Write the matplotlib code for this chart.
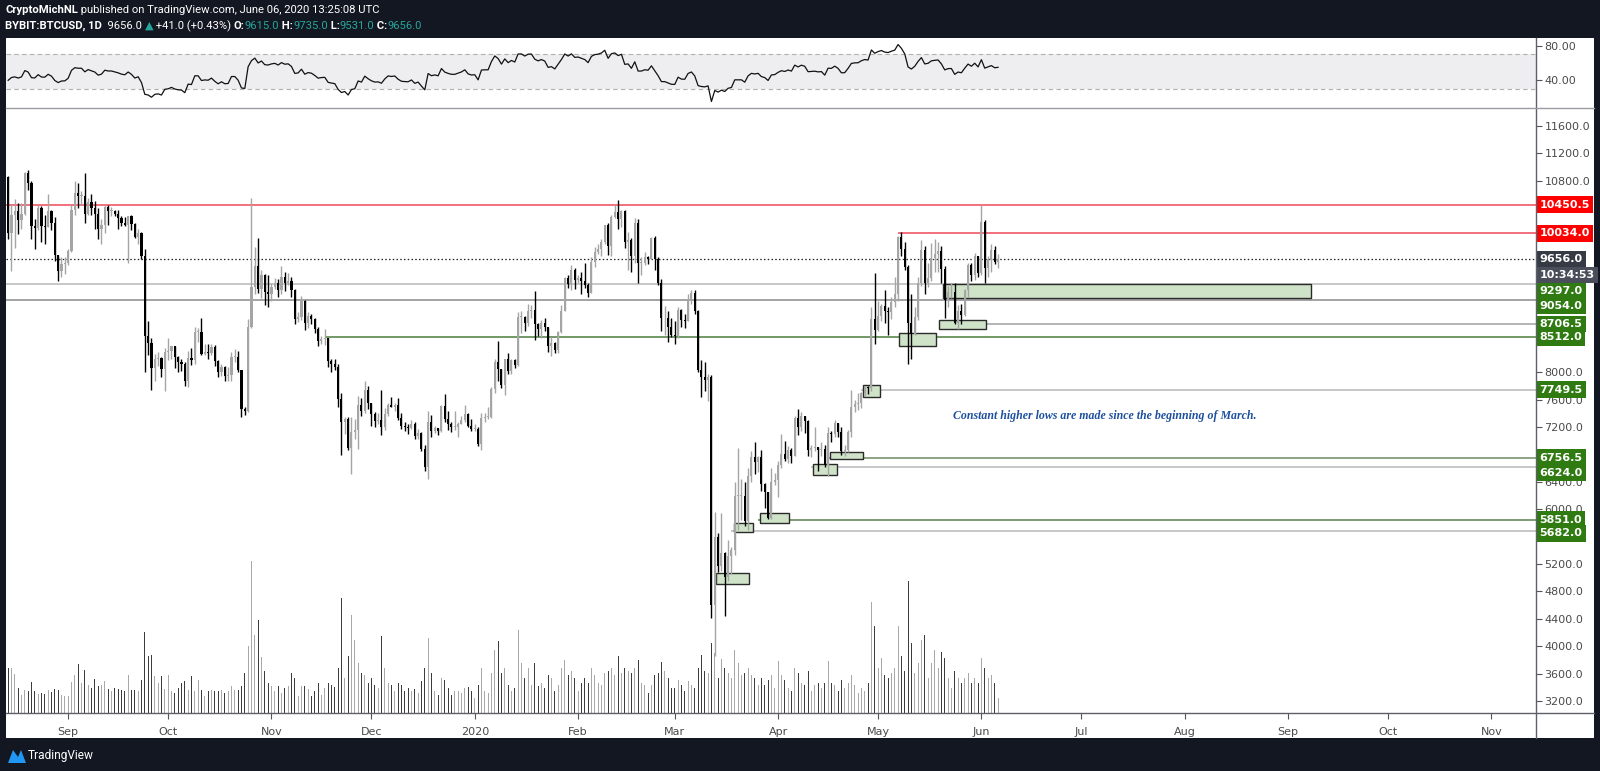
import matplotlib
matplotlib.use('Agg')
import matplotlib.pyplot as plt
import matplotlib.dates as mdates
import matplotlib.transforms as mtransforms
from matplotlib.patches import Rectangle, Polygon
from matplotlib.lines import Line2D
from matplotlib.ticker import FuncFormatter, FixedLocator
import numpy as np
import pandas as pd

W, H = 1600, 771
DARK = '#131722'

# --- daily candles BYBIT:BTCUSD, 14 Aug 2019 -> 6 Jun 2020 (open = previous close) ---
first_open = 10860
close = [
    # Aug
    10030, 10300, 10360, 10220, 10320, 10910, 10760, 10140, 10110, 10400, 10140, 10130, 10360, 10180, 9720, 9480, 9590, 9600,
    # Sep
    9770, 10380, 10620, 10580, 10580, 10320, 10490, 10400, 10320, 10100, 10160, 10410, 10360, 10360, 10310, 10260, 10190, 10160,
    10280, 10170, 9980, 10030, 9700, 8530, 8430, 8060, 8190, 8210, 8050, 8300,
    # Oct
    8320, 8380, 8230, 8150, 8130, 7870, 8210, 8180, 8590, 8590, 8270, 8300, 8280, 8370, 8170, 8000, 8080, 7950, 7960, 8230,
    8230, 8030, 7470, 7430, 8660, 9250, 9550, 9220, 9430, 9170, 9150,
    # Nov
    9250, 9300, 9200, 9400, 9310, 9340, 9200, 8780, 8810, 9040, 8720, 8820, 8780, 8640, 8460, 8490, 8500, 8170, 8120, 8080,
    7610, 7280, 7320, 6900, 7130, 7160, 7520, 7430, 7740, 7550,
    # Dec
    7390, 7290, 7300, 7200, 7390, 7530, 7500, 7520, 7340, 7220, 7200, 7190, 7250, 7070, 7110, 6880, 6620, 7280, 7150, 7190,
    7140, 7510, 7320, 7250, 7200, 7200, 7250, 7300, 7390, 7220, 7170,
    # Jan
    7180, 6950, 7340, 7350, 7350, 7760, 8150, 8050, 7820, 8190, 8020, 8180, 8110, 8810, 8810, 8720, 8900, 8910, 8700, 8630,
    8720, 8660, 8390, 8430, 8330, 8590, 8900, 9380, 9290, 9500, 9350,
    # Feb
    9380, 9330, 9280, 9160, 9610, 9760, 9800, 9900, 10160, 9850, 10270, 10350, 10240, 10360, 9900, 9930, 9700, 10180, 9600,
    9600, 9690, 9660, 9960, 9660, 9310, 8790, 8790, 8670, 8540,
    # Mar
    8530, 8910, 8760, 8750, 9070, 9160, 8900, 8030, 7930, 7890, 7940, 4600, 5600, 5170, 5360, 5010, 5320, 5400, 6190, 6190,
    6190, 5830, 6480, 6770, 6690, 6760, 6370, 6250, 5880, 6400, 6430,
    # Apr
    6650, 6810, 6740, 6870, 6780, 7340, 7200, 7370, 7290, 6870, 6890, 6910, 6860, 6880, 6640, 7110, 7100, 7260, 7130, 6850,
    6860, 7130, 7500, 7540, 7550, 7700, 7790, 7770, 8780, 8620,
    # May
    8830, 8970, 8900, 8880, 9030, 9150, 9980, 9810, 9540, 8720, 8560, 8810, 9310, 9790, 9310, 9380, 9670, 9730, 9770, 9510,
    9060, 9170, 9180, 8720, 8900, 8840, 9200, 9570, 9420, 9700, 9450,
    # Jun
    10200, 9520, 9660, 9790, 9615, 9656,
]
high = [
    10870, 10440, 10530, 10470, 10480, 10930, 10960, 10800, 10240, 10440, 10430, 10300, 10600, 10380, 10270, 9720, 9690, 9680,
    9800, 10450, 10800, 10760, 10650, 10920, 10550, 10600, 10500, 10400, 10240, 10440, 10440, 10420, 10380, 10370, 10280, 10270,
    10280, 10300, 10190, 10090, 10050, 9800, 8750, 8500, 8270, 8300, 8230, 8350,
    8500, 8390, 8390, 8240, 8200, 8150, 8320, 8350, 8660, 8650, 8790, 8410, 8420, 8410, 8400, 8180, 8120, 8100, 8080, 8300,
    8340, 8320, 8040, 7500, 8780, 10550, 9830, 9960, 9500, 9440, 9420,
    9300, 9380, 9370, 9550, 9460, 9450, 9390, 9220, 8880, 9120, 9060, 8880, 8860, 8800, 8660, 8530, 8630, 8510, 8200, 8200,
    8120, 7700, 7350, 7350, 7350, 7320, 7650, 7620, 7870, 7800,
    7550, 7420, 7400, 7750, 7480, 7560, 7640, 7560, 7620, 7400, 7270, 7250, 7300, 7270, 7180, 7130, 6940, 7440, 7380, 7220,
    7190, 7520, 7690, 7430, 7270, 7440, 7270, 7360, 7520, 7400, 7320,
    7250, 7200, 7400, 7400, 7500, 7780, 8200, 8460, 8050, 8200, 8280, 8190, 8200, 8880, 8900, 8830, 9000, 8990, 9190, 8720,
    8760, 8800, 8670, 8520, 8440, 8600, 8980, 9400, 9430, 9570, 9520,
    9420, 9470, 9600, 9300, 9680, 9830, 9870, 9950, 10160, 10190, 10300, 10450, 10520, 10380, 10380, 10050, 9960, 10250, 10240,
    9680, 9760, 9700, 9980, 10000, 9680, 9360, 8970, 8900, 8800,
    8750, 8950, 8920, 8850, 9150, 9200, 9200, 8910, 8180, 8150, 7980, 7960, 5960, 5650, 5950, 5380, 5550, 5450, 6400, 6900,
    6450, 6400, 6600, 6850, 6980, 6780, 6870, 6380, 6260, 6600, 6530,
    6700, 7100, 7000, 6930, 6890, 7370, 7470, 7420, 7370, 7300, 6940, 7200, 6910, 6980, 6940, 7200, 7150, 7300, 7260, 7200,
    6940, 7160, 7750, 7600, 7700, 7720, 7800, 7800, 8950, 9450,
    9050, 9000, 9200, 8960, 9100, 9400, 10000, 10050, 9900, 9570, 9150, 8950, 9400, 9930, 9850, 9600, 9890, 9950, 9900, 9840,
    9560, 9260, 9300, 9300, 8980, 9000, 9220, 9600, 9600, 9750, 9700,
    10450, 10230, 9700, 9880, 9850, 9735,
]
low = [
    9950, 9480, 9820, 10020, 10100, 10300, 10670, 9950, 9800, 10080, 9900, 9880, 10120, 10080, 9630, 9330, 9400, 9440,
    9570, 9760, 10300, 10400, 10450, 10180, 10300, 10300, 10100, 9950, 9880, 10040, 10160, 10280, 10280, 10100, 10140, 10140,
    9600, 10080, 9960, 9880, 9650, 8000, 8250, 7750, 7880, 8100, 7940, 7730,
    8180, 8200, 8070, 8000, 8020, 7800, 7780, 8110, 8120, 8450, 8250, 8260, 8200, 8250, 8100, 7930, 7950, 7870, 7880, 7870,
    8150, 8000, 7350, 7380, 7420, 8650, 9150, 9160, 9080, 8990, 8960,
    9050, 9220, 9100, 9140, 9190, 9270, 9100, 8700, 8730, 8770, 8620, 8650, 8700, 8570, 8380, 8420, 8400, 8080, 8000, 8030,
    7500, 6800, 7100, 6860, 6520, 7020, 6880, 7360, 7400, 7470,
    7220, 7200, 7240, 7080, 7160, 7360, 7490, 7440, 7300, 7180, 7140, 7100, 7180, 7030, 7030, 6850, 6560, 6440, 7050, 7120,
    7080, 7130, 7270, 7160, 7130, 7160, 7060, 7240, 7280, 7200, 7150,
    7150, 6920, 6860, 7270, 7320, 7340, 7700, 7880, 7770, 7670, 7980, 7970, 8060, 8100, 8570, 8600, 8680, 8800, 8480, 8530,
    8500, 8600, 8300, 8240, 8280, 8290, 8580, 8890, 9240, 9200, 9220,
    9300, 9150, 9230, 9100, 9160, 9540, 9730, 9700, 9870, 9720, 9700, 10250, 10100, 10130, 9820, 9500, 9460, 9600, 9300,
    9420, 9570, 9580, 9650, 9500, 9280, 8600, 8550, 8450, 8520,
    8420, 8500, 8670, 8650, 8750, 9000, 8860, 8000, 7640, 7730, 7580, 4410, 3850, 5080, 5100, 4440, 4950, 5050, 5330, 5700,
    5850, 5750, 5700, 6400, 6520, 6550, 6270, 6020, 5860, 5860, 6350,
    6180, 6600, 6700, 6680, 6680, 6780, 7080, 7150, 7120, 6780, 6770, 6850, 6560, 6780, 6620, 6480, 6990, 7060, 7050, 6800,
    6780, 6840, 7060, 7420, 7450, 7480, 7650, 7680, 7730, 8420,
    8600, 8750, 8720, 8550, 8780, 8960, 9050, 9700, 9500, 8120, 8200, 8540, 8770, 9260, 9150, 9250, 9330, 9460, 9470, 9300,
    8800, 8950, 9080, 8700, 8640, 8700, 8820, 9100, 9330, 9350, 9400,
    9420, 9300, 9400, 9470, 9580, 9531,
]
volume = [
    45, 45, 39, 25, 18, 23, 22, 31, 22, 19, 20, 19, 23, 21, 24, 23, 18, 17,
    17, 31, 38, 49, 30, 43, 28, 25, 34, 27, 28, 32, 24, 22, 25, 24, 23, 22, 38, 23, 23, 22, 33, 81, 57, 58, 37, 30, 37, 24,
    38, 22, 20, 25, 30, 32, 23, 37, 22, 33, 23, 17, 22, 23, 22, 22, 23, 20, 22, 27, 23, 23, 27, 40, 67, 152, 78, 93, 56, 42, 30,
    27, 22, 27, 20, 25, 27, 40, 35, 17, 27, 27, 24, 17, 22, 30, 18, 25, 30, 28, 26, 45, 115, 35, 57, 98, 73, 50, 40, 38, 30,
    35, 28, 25, 77, 45, 30, 28, 22, 30, 28, 22, 25, 22, 24, 20, 32, 45, 75, 40, 22, 18, 35, 33, 25, 18, 22, 22, 20, 25, 26, 22,
    15, 28, 45, 22, 20, 40, 63, 72, 40, 45, 28, 22, 25, 83, 50, 35, 45, 28, 50, 27, 30, 25, 38, 35, 22, 28, 45, 53, 38, 42, 35,
    22, 30, 35, 30, 45, 38, 30, 28, 40, 42, 45, 38, 57, 40, 45, 42, 40, 45, 53, 30, 28, 20, 28, 38, 40, 51, 42, 35, 25,
    25, 33, 28, 22, 32, 28, 25, 45, 58, 42, 40, 70, 60, 35, 54, 45, 40, 35, 63, 50, 38, 40, 45, 38, 35, 28, 35, 28, 33, 38, 25,
    52, 38, 33, 25, 22, 45, 40, 30, 28, 42, 22, 28, 30, 25, 30, 52, 30, 28, 22, 33, 25, 30, 38, 28, 20, 25, 22, 30, 111, 87,
    45, 55, 38, 35, 40, 45, 87, 57, 42, 132, 70, 40, 50, 73, 78, 35, 50, 63, 45, 61, 55, 35, 25, 42, 35, 30, 35, 40, 30, 35, 30,
    55, 45, 35, 38, 30, 15,
]
# closes 15 Jul - 13 Aug 2019, only used to warm up the RSI
pre_close = [10860, 9430, 9670, 10630, 10530, 10760, 10590, 10330, 9900, 9830, 9880, 9850, 9480, 9540, 9500, 9590, 10080,
             10400, 10520, 10820, 10980, 11800, 11470, 11970, 11980, 11860, 11290, 11560, 11390, 10860]

# horizontal levels: price, first day index (None = whole chart), line colour, label colour
levels = [10450.5, 10034.0, 9297.0, 9054.0, 8706.5, 8512.0, 7749.5, 6756.5, 6624.0, 5851.0, 5682.0]
# where the scale labels sit (stacked down like TradingView when they would collide)
label_at = [10450.5, 10034.0, 9194.0, 8970.0, 8706.5, 8512.0, 7749.5, 6756.5, 6530.0, 5851.0, 5650.0]
level_from = [None, 267, None, None, 280, 95, 256, 246, 241, 225, 217]
level_col = ['#f0485a', '#f0485a', '#b8b8b8', '#8a8a8a', '#a0a0a0', '#4b7d3e', '#b8b8b8', '#6d8a63', '#b8b8b8', '#5b7f4f', '#b8b8b8']
label_col = ['#ff0000', '#ff0000'] + ['#2f7b12'] * 9
countdown = '10:34:53'
countdown_at = 9423
hidden_ticks = [10400, 10000, 9600, 9200, 8800, 8400, 6800, 5600]

# green zones: start day, end day, low, high
zones = [(280.5, 390.9, 9080, 9297), (279.3, 293.4, 8635, 8760), (267.3, 278.4, 8385, 8580),
         (256.5, 261.6, 7640, 7815), (246.6, 256.5, 6740, 6840), (241.5, 248.7, 6500, 6662),
         (225.6, 234.3, 5800, 5946), (217.8, 223.5, 5670, 5800), (212.4, 222.3, 4909, 5069)]

dates = pd.date_range('2019-08-14', periods=len(close), freq='D')
x = mdates.date2num(dates)
c = np.array(close, float)
o = np.concatenate([[first_open], c[:-1]])
h = np.maximum(np.array(high, float), np.maximum(o, c))
l = np.minimum(np.array(low, float), np.minimum(o, c))
up = c >= o

# RSI(14), Wilder smoothing
allc = np.array(pre_close + close, float)
d = np.diff(allc)
g = np.clip(d, 0, None)
ls = np.clip(-d, 0, None)
ag = g[:14].mean()
al = ls[:14].mean()
rsi_all = [np.nan] * 15
for i in range(14, len(d)):
    ag = (ag * 13 + g[i]) / 14
    al = (al * 13 + ls[i]) / 14
    rsi_all.append(100 - 100 / (1 + ag / al))
rsi = np.array(rsi_all[-len(close):])

fig = plt.figure(figsize=(W / 100, H / 100), dpi=100, facecolor=DARK)
fig.patches.append(Rectangle((6 / W, 1 - 738 / H), 1588 / W, 700 / H, transform=fig.transFigure,
                             facecolor='white', edgecolor='none', zorder=-5))


def rect(x0, y0, x1, y1):
    return [x0 / W, 1 - y1 / H, (x1 - x0) / W, (y1 - y0) / H]


xl = (x[0] - 0.65, x[0] + 458.4)

# volume (behind)
axv = fig.add_axes(rect(6, 108, 1536, 713))
axv.bar(x[up], np.array(volume)[up], width=0.32, color='#a8a8a8', linewidth=0)
axv.bar(x[~up], np.array(volume)[~up], width=0.32, color='#3c3c3c', linewidth=0)
axv.set_ylim(0, 605)
axv.set_xlim(xl)
axv.axis('off')

# price
ax = fig.add_axes(rect(6, 108, 1536, 713), facecolor='none')
ax.set_xlim(xl)
ax.set_ylim(3024, 11863)
for s in ax.spines.values():
    s.set_visible(False)

for lv, frm, lc in zip(levels, level_from, level_col):
    x0 = xl[0] if frm is None else x[0] + frm
    ax.hlines(lv, x0, xl[1], color=lc, lw=1.1, zorder=2)
ax.hlines(close[-1], xl[0], xl[1], color='#222222', lw=0.9, linestyles=(0, (1.2, 1.8)), zorder=2)

for x0, x1, lo, hi in zones:
    ax.add_patch(Rectangle((x[0] + x0, lo), x1 - x0, hi - lo, facecolor='#cfe3c8', edgecolor='#2a2a2a',
                           lw=1.0, zorder=3))

ax.vlines(x[up], l[up], h[up], color='#a5a5a5', lw=1, zorder=4)
ax.vlines(x[~up], l[~up], h[~up], color='#000000', lw=1, zorder=4)
bot = np.minimum(o, c)
hgt = np.maximum(np.abs(c - o), 12)
ax.bar(x[up], hgt[up], bottom=bot[up], width=0.62, color='#a5a5a5', linewidth=0, zorder=5)
ax.bar(x[~up], hgt[~up], bottom=bot[~up], width=0.62, color='#000000', linewidth=0, zorder=5)

ax.text(x[0] + 329, 7363, 'Constant higher lows are made since the beginning of March.', color='#1c4f9e',
        fontsize=8.6, family='Liberation Serif', style='italic', fontweight='bold', ha='center', va='center')

# axes ticks
ax.yaxis.tick_right()
ax.yaxis.set_major_locator(FixedLocator(np.arange(3200, 11601, 400)))
ax.yaxis.set_major_formatter(FuncFormatter(lambda v, p: '' if round(v) in hidden_ticks else f'{v:.1f}'))
ax.tick_params(axis='y', direction='out', length=4, width=0.8, color='#555555', pad=2,
               labelsize=8, labelcolor='#4a4a4a')
ax.xaxis.set_major_locator(mdates.MonthLocator())
ax.xaxis.set_major_formatter(FuncFormatter(
    lambda v, p: str(mdates.num2date(v).year) if mdates.num2date(v).month == 1 else mdates.num2date(v).strftime('%b')))
ax.tick_params(axis='x', direction='out', length=4, width=0.8, color='#555555', pad=6,
               labelsize=8, labelcolor='#4a4a4a')

blend = mtransforms.blended_transform_factory(ax.transAxes, ax.transData)


def scale_label(y, txt, fc):
    ax.text(1.0022, y, txt, transform=blend, color='white', fontsize=8, fontweight='bold',
            ha='left', va='center', clip_on=False, zorder=20,
            bbox=dict(boxstyle='square,pad=0.3', fc=fc, ec='none'))


for lv, ya, bc in zip(levels, label_at, label_col):
    scale_label(ya, f'{lv:.1f}', bc)
scale_label(close[-1], f'{close[-1]:.1f}', '#363a45')
scale_label(countdown_at, countdown, '#4a4e5a')

# RSI pane
axr = fig.add_axes(rect(6, 38, 1536, 108), facecolor='none')
axr.set_xlim(xl)
axr.set_ylim(7.3, 89)
axr.axhspan(30, 70, color='#eeeef1', lw=0)
axr.axhline(70, color='#b0b0b0', lw=0.8, ls=(0, (4, 3)))
axr.axhline(30, color='#b0b0b0', lw=0.8, ls=(0, (4, 3)))
axr.plot(x, rsi, color='#111111', lw=0.9)
for s in axr.spines.values():
    s.set_visible(False)
axr.set_xticks([])
axr.yaxis.tick_right()
axr.set_yticks([40, 80])
axr.yaxis.set_major_formatter(FuncFormatter(lambda v, p: f'{v:.2f}'))
axr.tick_params(axis='y', direction='out', length=4, width=0.8, color='#555555', pad=2,
                labelsize=8, labelcolor='#4a4a4a')

# frame lines
fig.add_artist(Line2D([1536 / W] * 2, [1 - 38 / H, 1 - 738 / H], color='#5d606b', lw=1))
fig.add_artist(Line2D([6 / W, 1594 / W], [1 - 108 / H] * 2, color='#9a9ca3', lw=1))
fig.add_artist(Line2D([6 / W, 1594 / W], [1 - 713 / H] * 2, color='#5d606b', lw=1))

# header
rend = fig.canvas.get_renderer()


def header(parts, y):
    px = 5
    for txt, col, bold in parts:
        t = fig.text(px / W, 1 - y / H, txt, color=col, fontsize=8.1, fontweight='bold' if bold else 'normal',
                     ha='left', va='center', family=['Roboto', 'DejaVu Sans'])
        px += t.get_window_extent(renderer=rend).width


TEAL = '#26a69a'
header([('CryptoMichNL', 'white', True), (' published on TradingView.com, June 06, 2020 13:25:08 UTC', 'white', False)], 10)
header([('BYBIT:BTCUSD, 1D', 'white', True), ('  9656.0 ', 'white', False), ('▲', TEAL, False),
        (' +41.0 (+0.43%) ', 'white', False), ('O:', 'white', True), ('9615.0', TEAL, False),
        (' H:', 'white', True), ('9735.0', TEAL, False), (' L:', 'white', True), ('9531.0', TEAL, False),
        (' C:', 'white', True), ('9656.0', TEAL, False)], 26)

# footer logo
fig.patches.append(Polygon([(8 / W, 1 - 763 / H), (13 / W, 1 - 750 / H), (18 / W, 1 - 757 / H),
                            (21 / W, 1 - 750 / H), (26 / W, 1 - 763 / H)], closed=True,
                           transform=fig.transFigure, facecolor='#2196f3', edgecolor='none'))
fig.text(28 / W, 1 - 756 / H, 'TradingView', color='white', fontsize=8.6, ha='left', va='center',
         family=['Roboto', 'DejaVu Sans'])

fig.savefig('out.png', dpi=100, facecolor=DARK)
